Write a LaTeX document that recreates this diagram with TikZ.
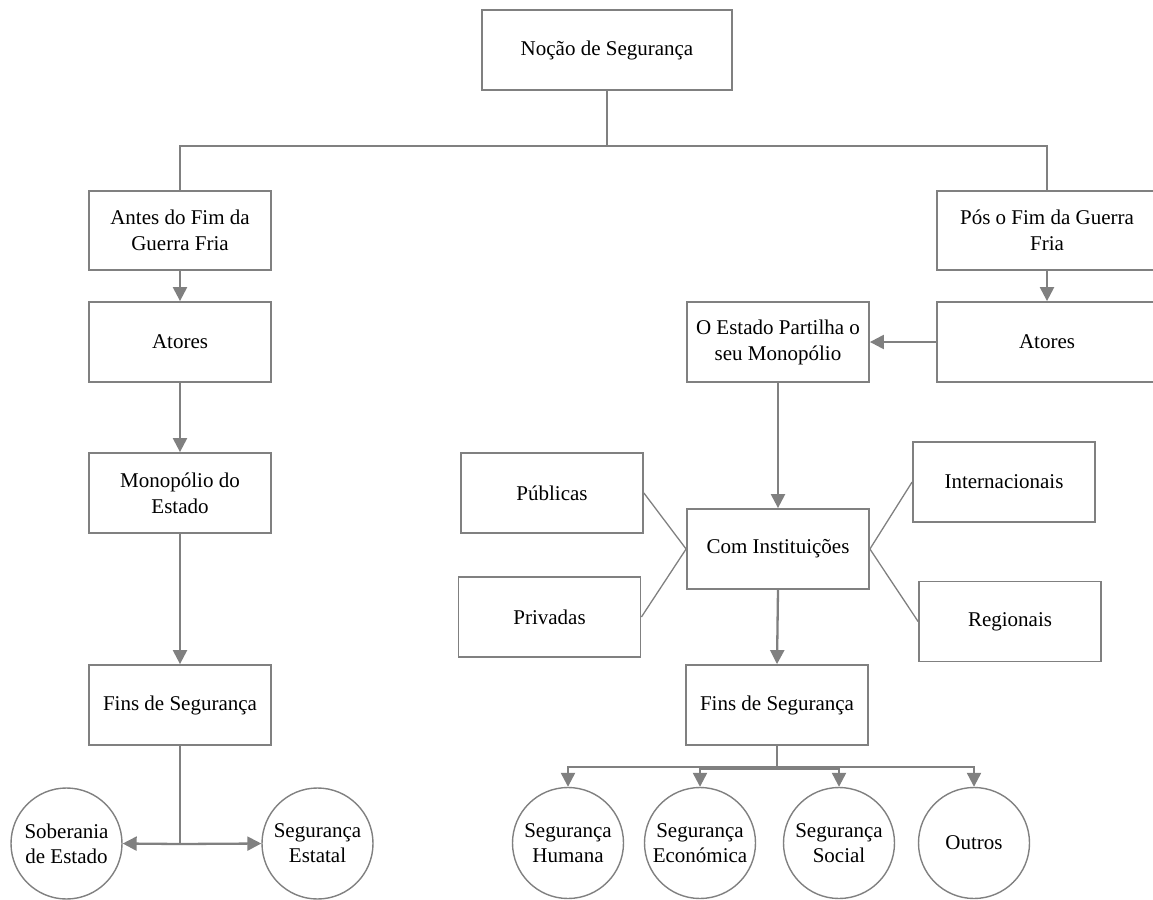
\documentclass[tikz,border=0pt]{standalone}
\usepackage{fontspec}
\setmainfont{Liberation Serif}
\usetikzlibrary{arrows.meta,calc}
\definecolor{ln}{RGB}{128,128,128}
\tikzset{
  box/.style={draw=ln, line width=1.8pt, minimum width=182pt, minimum height=80pt, inner sep=0pt, align=center, font=\fontsize{21}{26}\selectfont, text=black},
  circ/.style={draw=ln, line width=1.4pt, circle, minimum size=111pt, inner sep=0pt, align=center, font=\fontsize{21}{25}\selectfont, text=black},
  conn/.style={draw=ln, line width=2.3pt},
  arr/.style={draw=ln, line width=2.3pt, -{Triangle[width=14pt,length=14pt]}},
  thin/.style={draw=ln, line width=1.3pt}
}
\begin{document}
\begin{tikzpicture}[x=1pt,y=-1pt]
\useasboundingbox (0,0) rectangle (1153,899);
% top
\node[box, minimum width=250pt] (noc) at (607,50) {Noção de Segurança};
% left column
\node[box, minimum height=79pt] (antes) at (180,230.5) {Antes do Fim da\\Guerra Fria};
\node[box] (atL) at (180,342) {Atores};
\node[box] (mono) at (180,493) {Monopólio do\\Estado};
\node[box] (finsL) at (180,705) {Fins de Segurança};
\node[circ] (sob) at (66.5,843.5) {Soberania\\de Estado};
\node[circ] (est) at (317.5,843.5) {Segurança\\Estatal};
% right column
\node[box, minimum width=220pt, minimum height=79pt] (pos) at (1047,230.5) {Pós o Fim da Guerra\\Fria};
\node[box, minimum width=220pt] (atR) at (1047,342) {Atores};
\node[box] (part) at (778,342) {O Estado Partilha o\\seu Monopólio};
\node[box] (com) at (778,549) {Com Instituições};
\node[box] (pub) at (552,493) {Públicas};
\node[box] (priv) at (549.5,617) {Privadas};
\node[box] (intl) at (1004,482) {Internacionais};
\node[box] (reg) at (1010,621.5) {Regionais};
\node[box] (finsR) at (777,705) {Fins de Segurança};
\node[circ] (hum) at (568,843) {Segurança\\Humana};
\node[circ] (eco) at (700,843) {Segurança\\Económica};
\node[circ] (soc) at (839,843) {Segurança\\Social};
\node[circ] (out) at (974,843) {Outros};
% junction coordinates
\coordinate (jtop) at (607,146);
\coordinate (jl) at (180,844);
\coordinate (jr) at (777,767);
\coordinate (jr2) at (777,769);
% connectors
\draw[conn] (noc.south) -- (jtop);
\draw[conn] (antes.north) |- (jtop) -| (pos.north);
\draw[arr] (antes) -- (atL);
\draw[arr] (atL) -- (mono);
\draw[arr] (mono) -- (finsL);
\draw[conn] (finsL.south) -- (jl);
\draw[arr] (jl) -- (sob.east);
\draw[arr] (jl) -- (est.west);
\draw[arr] (pos) -- (atR);
\draw[arr] (atR.west) -- (part.east);
\draw[arr] (part.south) -- (com.north);
\draw[arr] (com.south) -- (finsR.north);
\draw[thin] (pub.east) -- (com.west);
\draw[thin] (priv.east) -- (com.west);
\draw[thin] (com.east) -- (intl.west);
\draw[thin] (com.east) -- (reg.west);
\draw[conn] (finsR.south) -- (jr2);
\draw[arr] (jr) -| (hum.north);
\draw[arr] (jr) -| (out.north);
\draw[arr] (jr2) -| (eco.north);
\draw[arr] (jr2) -| (soc.north);
\end{tikzpicture}
\end{document}
